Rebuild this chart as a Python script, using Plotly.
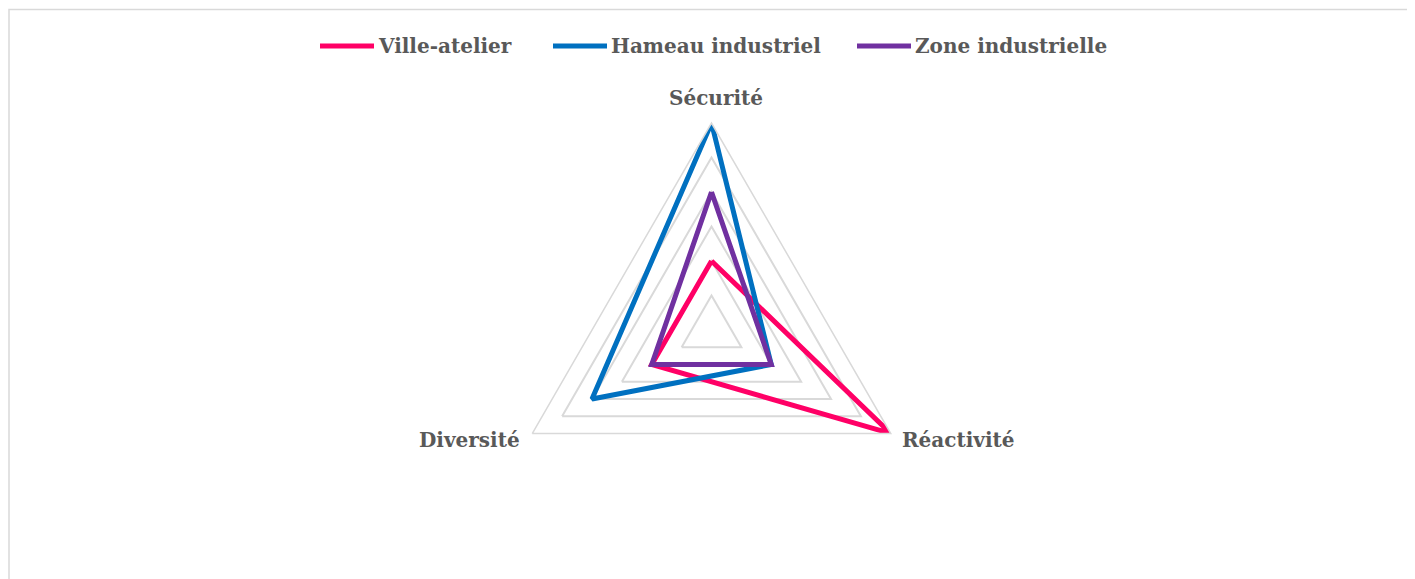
import plotly.graph_objects as go

# axes (clockwise from top) and series values
axes = ["Sécurité", "Réactivité", "Diversité"]
series_names = ["Ville-atelier", "Hameau industriel", "Zone industrielle"]
ville_atelier = [2, 6, 2]
hameau_industriel = [6, 2, 4]
zone_industrielle = [4, 2, 2]
colors = ["#FF0066", "#0070C0", "#7030A0"]

# page body has an 8px margin, so the figure is shifted by that amount
OFF = 8
W, H = 1415 - OFF, 579 - OFF
GRID = "#D9D9D9"
TXT = "#595959"
FONT = "DejaVu Serif"


def px_x(x):
    return (x - OFF) / W


def px_y(y):
    return 1 - (y - OFF) / H


fig = go.Figure()
for name, vals, col in zip(series_names, [ville_atelier, hameau_industriel, zone_industrielle], colors):
    fig.add_trace(go.Scatterpolar(
        r=vals + vals[:1], theta=axes + axes[:1], mode="lines", name=name,
        line=dict(color=col, width=5), showlegend=False,
    ))

# polar area: centre ~ (711.5, 330), outer radius ~207 px
cx, cy, R = 711.5, 330, 207
fig.update_layout(
    width=W, height=H,
    margin=dict(l=0, r=0, t=0, b=0),
    paper_bgcolor="white", plot_bgcolor="white",
    polar=dict(
        domain=dict(x=[px_x(cx - R), px_x(cx + R)], y=[px_y(cy + R), px_y(cy - R)]),
        gridshape="linear",
        bgcolor="white",
        radialaxis=dict(range=[0, 6], dtick=1, showticklabels=False, ticks="",
                        showline=False, gridcolor=GRID, gridwidth=1.5),
        angularaxis=dict(rotation=90, direction="clockwise", showgrid=False,
                         showline=True, linecolor=GRID, linewidth=1.5, ticks="",
                         showticklabels=False),
    ),
)

# chart border
fig.add_shape(type="rect", xref="paper", yref="paper",
              x0=px_x(9), x1=px_x(1408.5), y0=px_y(620), y1=px_y(9.5),
              line=dict(color=GRID, width=1.5), layer="below")

# axis labels
label_font = dict(family=FONT, size=20, color=TXT, weight="bold")
label_pos = [(716, 98, "center"), (900, 440, "left"), (522, 440, "right")]
for txt, (lx, ly, anchor) in zip(axes, label_pos):
    fig.add_annotation(x=px_x(lx), y=px_y(ly), xref="paper", yref="paper",
                       text=txt, showarrow=False, xanchor=anchor, yanchor="middle",
                       font=label_font)

# custom legend with long line samples
legend_x = [320, 553, 857]
ly = 46
for name, col, lx in zip(series_names, colors, legend_x):
    fig.add_shape(type="line", xref="paper", yref="paper",
                  x0=px_x(lx), x1=px_x(lx + 54), y0=px_y(ly), y1=px_y(ly),
                  line=dict(color=col, width=5))
    fig.add_annotation(x=px_x(lx + 56), y=px_y(ly), xref="paper", yref="paper",
                       text=name, showarrow=False, xanchor="left", yanchor="middle",
                       font=dict(family=FONT, size=20, color=TXT, weight="bold"))

fig.write_html("out.html")
